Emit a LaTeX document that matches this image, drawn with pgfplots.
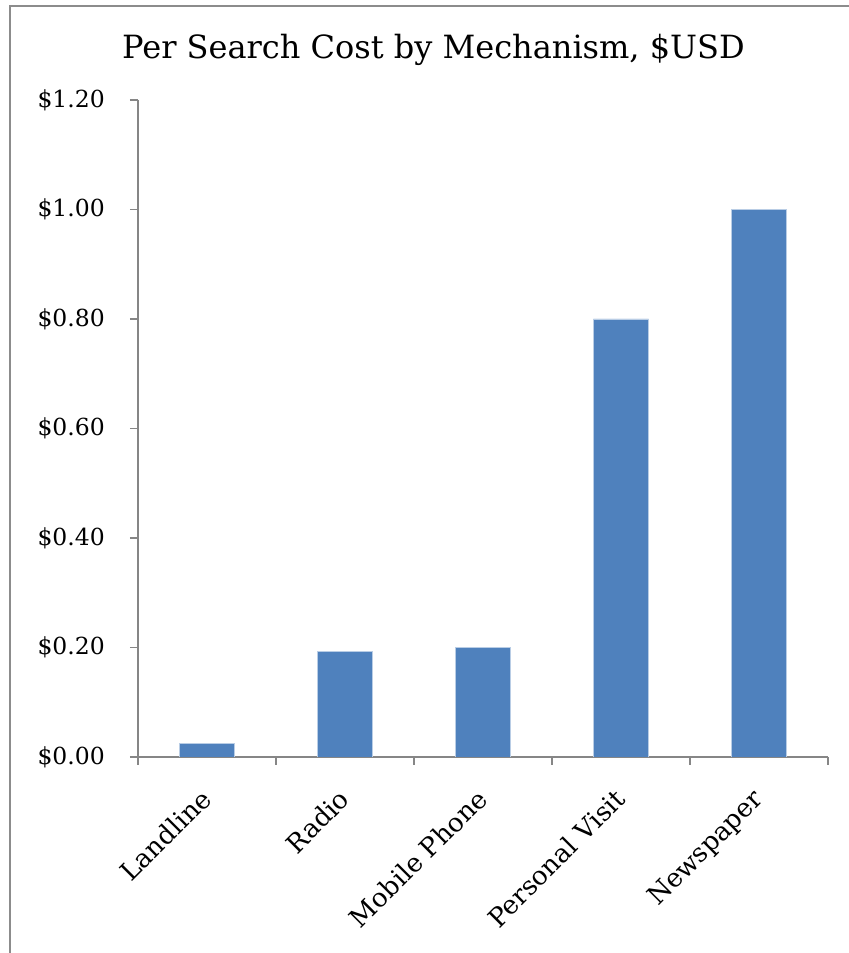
\documentclass[border=0pt]{standalone}
\usepackage{pgfplots}
\pgfplotsset{compat=1.18}
\usepackage{fontspec}
\setmainfont{DejaVu Serif}
\definecolor{barblue}{RGB}{79,129,189}
\definecolor{baredge}{RGB}{185,205,229}
\definecolor{axgray}{RGB}{134,134,134}
\definecolor{framegray}{RGB}{140,140,140}
\begin{document}
\begin{tikzpicture}[x=1bp,y=1bp]
\useasboundingbox (0,0) rectangle (849,953);
\draw[framegray, line width=2bp] (10,0) -- (10,947) -- (849,947);
\node[anchor=base, inner sep=0pt, font=\fontsize{32bp}{38bp}\selectfont] at (433.5,894) {Per Search Cost by Mechanism, \$USD};
\begin{axis}[
  at={(138bp,196bp)}, anchor=south west,
  scale only axis, width=690bp, height=657bp,
  xmin=-0.5, xmax=4.5, ymin=0, ymax=1.2,
  axis x line=bottom, axis y line=left,
  axis line style={axgray, line width=1.5bp, -},
  tick align=outside,
  major tick length=8bp,
  tick style={axgray, line width=1.5bp},
  ytick={0,0.2,0.4,0.6,0.8,1.0,1.2},
  yticklabels={\$0.00,\$0.20,\$0.40,\$0.60,\$0.80,\$1.00,\$1.20},
  yticklabel shift=25bp,
  yticklabel style={anchor=east, inner sep=0pt, font=\fontsize{23.5bp}{27bp}\selectfont},
  xtick={-0.5,0.5,1.5,2.5,3.5,4.5},
  xticklabels={},
  extra x ticks={0,1,2,3,4},
  extra x tick labels={Landline,Radio,Mobile Phone,Personal Visit,Newspaper},
  extra x tick style={major tick length=0pt},
  xticklabel shift=30bp,
  xticklabel style={xshift=-8bp, rotate=45, anchor=north east, inner sep=0pt, font=\fontsize{26bp}{30bp}\selectfont},
  ybar, bar width=0.4,
]
\addplot[fill=barblue, draw=baredge, line width=0.75bp] coordinates {(0,0.025) (1,0.193) (2,0.20) (3,0.80) (4,1.00)};
\end{axis}
\end{tikzpicture}
\end{document}
